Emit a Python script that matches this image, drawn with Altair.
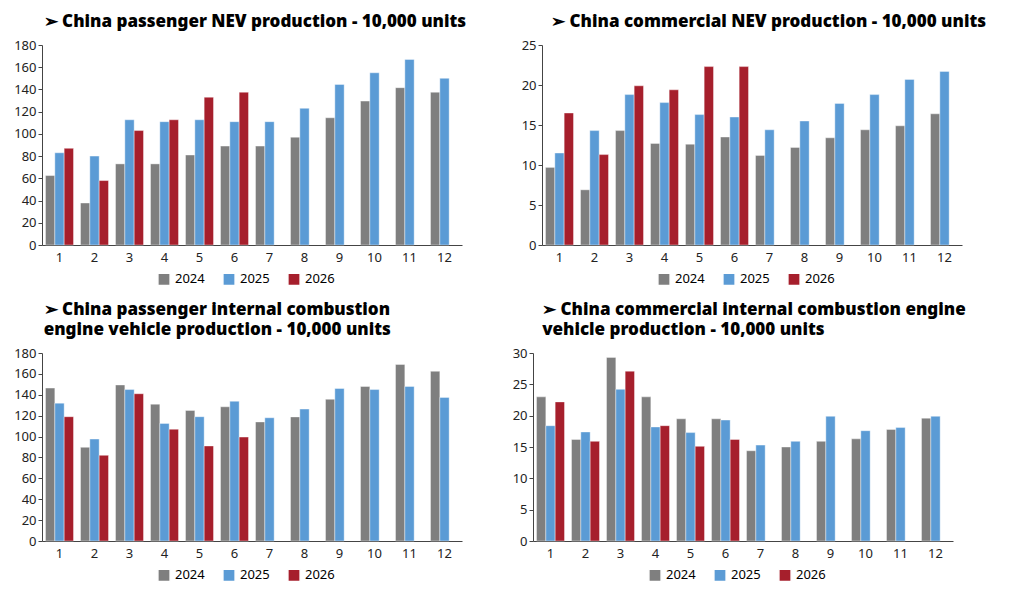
import pandas as pd
import altair as alt

months = list(range(1, 13))
years = ["2024", "2025", "2026"]
colors = ["#7f7f7f", "#5b9bd5", "#a61f2c"]

# China passenger NEV production
pnev_2024 = [62.5, 37.8, 73, 73, 81, 89, 89, 97, 114.5, 129.5, 141.6, 137.5]
pnev_2025 = [83, 80, 112.7, 111, 112.7, 111, 111, 123, 144.5, 155, 167, 150]
pnev_2026 = [87, 58, 103, 112.7, 133, 137.5]

# China commercial NEV production
cnev_2024 = [9.7, 6.9, 14.3, 12.7, 12.6, 13.5, 11.2, 12.2, 13.4, 14.4, 14.9, 16.4]
cnev_2025 = [11.5, 14.3, 18.8, 17.8, 16.3, 16.0, 14.4, 15.5, 17.7, 18.8, 20.7, 21.7]
cnev_2026 = [16.5, 11.3, 19.9, 19.4, 22.3, 22.3]

# China passenger ICE vehicle production
pice_2024 = [146.4, 89.7, 149.4, 131, 125, 128.5, 114, 118.8, 135.7, 147.9, 169, 162.5]
pice_2025 = [132, 97.6, 145, 112.6, 119, 133.8, 118, 126.3, 146, 145, 148, 137.5]
pice_2026 = [119, 82, 141, 107, 91, 99.5]

# China commercial ICE vehicle production
cice_2024 = [23, 16.2, 29.3, 23, 19.5, 19.5, 14.4, 15, 15.9, 16.3, 17.8, 19.6]
cice_2025 = [18.4, 17.4, 24.2, 18.2, 17.3, 19.3, 15.3, 15.9, 19.9, 17.6, 18.1, 19.9]
cice_2026 = [22.2, 15.9, 27.1, 18.4, 15.1, 16.2]


def frame(a, b, c):
    rows = []
    for yr, vals in zip(years, [a, b, c]):
        for m, v in zip(months, vals):
            rows.append({"Month": m, "Year": yr, "Value": v})
    return pd.DataFrame(rows)


def panel(title, ymax, step, a, b, c, height):
    return alt.Chart(frame(a, b, c)).mark_bar(stroke="white", strokeWidth=0.4).encode(
        x=alt.X("Month:O", title=None, scale=alt.Scale(domain=months, paddingInner=0.2, paddingOuter=0.1),
                axis=alt.Axis(labelAngle=0, ticks=False, domainColor="#444", labelPadding=6)),
        xOffset=alt.XOffset("Year:N", scale=alt.Scale(domain=years)),
        y=alt.Y("Value:Q", title=None, scale=alt.Scale(domain=[0, ymax]),
                axis=alt.Axis(values=list(range(0, ymax + 1, step)), grid=False,
                              domainColor="#444", tickColor="#444", tickSize=4)),
        color=alt.Color("Year:N", title=None, scale=alt.Scale(domain=years, range=colors),
                        legend=alt.Legend(orient="none", legendX=115, legendY=height + 27,
                                          direction="horizontal", symbolType="square",
                                          symbolSize=150, labelFontSize=13, columnPadding=14)),
    ).properties(
        width=420, height=height,
        title=alt.TitleParams(title, anchor="start", fontSize=17, fontWeight=900, offset=8, dx=30,
                              lineHeight=20),
    )


top = alt.hconcat(
    panel("➢  China passenger NEV production - 10,000 units", 180, 20, pnev_2024, pnev_2025, pnev_2026, 200),
    panel("➢  China commercial NEV production - 10,000 units", 25, 5, cnev_2024, cnev_2025, cnev_2026, 200),
    spacing=50,
).resolve_scale(color="independent")
bottom = alt.hconcat(
    panel(["➢  China passenger internal combustion", "     engine vehicle production - 10,000 units"],
          180, 20, pice_2024, pice_2025, pice_2026, 188),
    panel(["➢  China commercial internal combustion engine", "     vehicle production - 10,000 units"],
          30, 5, cice_2024, cice_2025, cice_2026, 188),
    spacing=50,
).resolve_scale(color="independent")

chart = alt.vconcat(top, bottom, spacing=12).resolve_scale(color="independent").configure(
    font="Noto Sans",
).configure_axis(
    labelFontSize=13, labelColor="#222"
).configure_view(strokeOpacity=0).configure_title(font="Noto Sans", color="#000")

chart.save("out.html", embed_options={"renderer": "svg", "actions": False})
